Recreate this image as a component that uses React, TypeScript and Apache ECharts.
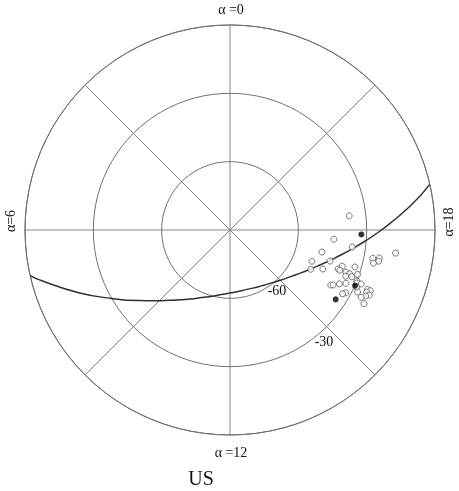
import React, { useEffect, useRef } from "react";
import * as echarts from "echarts";

// Galactic plane trace (right ascension in hours, declination in degrees)
const curveRA = [6.857, 7, 7.5, 8, 8.5, 9, 9.5, 10, 10.5, 11, 11.5, 12, 12.5, 13, 13.5, 14, 14.5, 15, 15.5, 16, 16.5, 17, 17.5, 18, 18.5, 18.857];
const curveDec = [0, -4.2, -18.1, -29.9, -39.1, -46.1, -51.3, -55.0, -57.9, -59.9, -61.4, -62.3, -62.8, -62.9, -62.5, -61.8, -60.6, -58.8, -56.4, -53.0, -48.5, -42.4, -34.2, -23.5, -10.3, 0];

// Open circles
const openRA = [18.45, 17.66, 17.47, 17.10, 17.47, 16.61, 16.85, 17.25, 17.29, 17.21, 17.13, 16.27, 16.48, 16.81, 16.68, 16.66, 16.90, 16.67, 16.66, 16.55, 16.60, 16.72, 16.54, 16.09, 16.13, 16.25, 16.35, 16.49, 16.51, 16.38, 16.44, 16.44, 16.37, 16.27, 16.10, 16.03, 16.33, 16.27, 16.19, 16.08];
const openDec = [-37.3, -44.2, -35.8, -48.5, -16.6, -51.5, -44.0, -26.1, -23.3, -23.3, -25.4, -50.6, -45.8, -38.2, -39.5, -38.6, -32.8, -35.8, -34.1, -35.3, -32.8, -30.7, -30.0, -39.6, -38.7, -36.5, -34.0, -29.6, -27.7, -29.0, -24.3, -22.9, -24.1, -27.7, -32.2, -33.2, -22.5, -23.8, -25.3, -22.9];

// Filled dots
const filledRA = [17.87, 16.40, 15.78];
const filledDec = [-32.3, -29.9, -34.5];

// Ring / spoke labels
const decTicks = [-90, -60, -30, 0];
const raLabels = ["α =0", "α=6", "α =12", "α=18"];
const ringLabels = ["-60", "-30"];
const title = "US";

export default function App() {
  const ref = useRef<HTMLDivElement>(null);
  useEffect(() => {
    if (!ref.current) return;
    const chart = echarts.init(ref.current, undefined, { renderer: "svg" });
    const font = "Liberation Serif";
    const gray = "#707070";
    chart.setOption({
      animation: false,
      polar: { center: [230, 230], radius: 205 },
      angleAxis: {
        type: "value",
        min: 0,
        max: 24,
        interval: 3,
        startAngle: 90,
        clockwise: false,
        axisLine: { show: true, lineStyle: { color: gray, width: 1 } },
        axisTick: { show: false },
        axisLabel: { show: false },
        splitLine: { show: true, lineStyle: { color: "#858585", width: 1 } },
      },
      radiusAxis: {
        type: "value",
        min: decTicks[0],
        max: decTicks[decTicks.length - 1],
        interval: 30,
        axisLine: { show: false },
        axisTick: { show: false },
        axisLabel: { show: false },
        splitLine: { show: true, lineStyle: { color: gray, width: 1 } },
      },
      series: [
        {
          type: "line",
          coordinateSystem: "polar",
          data: curveRA.map((a, i) => [curveDec[i], a]),
          smooth: true,
          showSymbol: false,
          lineStyle: { color: "#303030", width: 1.5 },
          z: 2,
        },
        {
          type: "scatter",
          coordinateSystem: "polar",
          data: openRA.map((a, i) => [openDec[i], a]),
          symbol: "circle",
          symbolSize: 6,
          itemStyle: { color: "#ffffff", borderColor: "#444", borderWidth: 0.9 },
          z: 3,
        },
        {
          type: "scatter",
          coordinateSystem: "polar",
          data: filledRA.map((a, i) => [filledDec[i], a]),
          symbol: "circle",
          symbolSize: 6,
          itemStyle: { color: "#000000" },
          z: 4,
        },
      ],
      graphic: [
        { type: "text", x: 231, y: 9, style: { text: raLabels[0], font: `14px "${font}"`, fill: "#111", align: "center", verticalAlign: "middle" } },
        { type: "text", x: 10, y: 221, rotation: Math.PI / 2, style: { text: raLabels[1], font: `14px "${font}"`, fill: "#111", align: "center", verticalAlign: "middle" } },
        { type: "text", x: 231, y: 452, style: { text: raLabels[2], font: `14px "${font}"`, fill: "#111", align: "center", verticalAlign: "middle" } },
        { type: "text", x: 448, y: 222, rotation: Math.PI / 2, style: { text: raLabels[3], font: `14px "${font}"`, fill: "#111", align: "center", verticalAlign: "middle" } },
        { type: "text", x: 277, y: 290, style: { text: ringLabels[0], font: `14px "${font}"`, fill: "#111", align: "center", verticalAlign: "middle" } },
        { type: "text", x: 324, y: 341, style: { text: ringLabels[1], font: `14px "${font}"`, fill: "#111", align: "center", verticalAlign: "middle" } },
        { type: "text", x: 201, y: 478, style: { text: title, font: `20px "${font}"`, fill: "#111", align: "center", verticalAlign: "middle" } },
      ],
    });
    return () => chart.dispose();
  }, []);
  return <div ref={ref} style={{ position: "fixed", left: 0, top: 0, width: 459, height: 491 }} />;
}
